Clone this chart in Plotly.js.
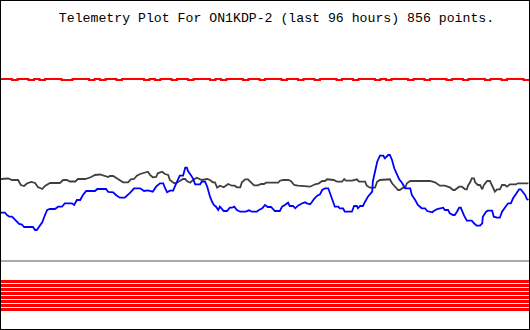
<!DOCTYPE html>
<html>
<head>
<meta charset="utf-8">
<script src="https://cdn.plot.ly/plotly-3.0.1.min.js"></script>
<style>
  html, body { margin: 0; padding: 0; background: #fff; }
  #chart { width: 528px; height: 328px; border: 1px solid #000; }
</style>
</head>
<body>
<div id="chart"></div>
<script>
// ---- Data (x in hours relative to now, y in raw telemetry units 0..255+) ----
const titleText = "Telemetry Plot For ON1KDP-2 (last 96 hours) 856 points.";

const blackHours = [-96.0,-95.3,-94.7,-94.0,-92.9,-92.4,-91.8,-91.3,-90.5,-89.8,-89.3,-88.5,-88.0,-87.1,-85.3,-84.7,-84.0,-83.5,-82.5,-82.0,-80.7,-79.8,-78.9,-78.0,-77.1,-76.5,-76.2,-75.6,-75.1,-74.4,-73.8,-72.9,-72.4,-71.8,-71.3,-70.7,-70.2,-69.6,-69.3,-68.9,-68.4,-67.8,-67.5,-66.7,-66.2,-65.6,-65.3,-64.5,-64.0,-63.5,-62.9,-62.5,-62.2,-61.6,-61.1,-60.4,-59.5,-58.5,-58.0,-57.5,-57.1,-56.7,-56.2,-55.5,-54.7,-54.0,-53.5,-53.1,-52.5,-52.2,-51.6,-51.1,-50.5,-50.0,-49.3,-48.7,-48.2,-47.8,-45.6,-45.3,-44.7,-43.8,-43.3,-42.7,-42.0,-40.7,-39.8,-38.9,-38.2,-37.6,-37.1,-36.7,-35.8,-35.5,-34.9,-34.0,-33.6,-33.3,-32.2,-31.6,-31.3,-30.9,-29.8,-29.5,-28.9,-28.0,-27.6,-27.1,-26.2,-25.3,-24.9,-24.4,-23.8,-23.5,-22.9,-22.5,-22.2,-21.6,-18.0,-17.1,-16.2,-15.3,-14.4,-13.8,-13.5,-12.7,-12.2,-11.6,-11.3,-11.1,-10.7,-10.4,-10.0,-9.8,-9.3,-8.9,-8.5,-8.2,-7.6,-7.1,-6.7,-6.2,-5.8,-5.3,-4.9,-4.4,-4.0,-3.5,-2.4,-2.0,-0.1];
const blackValues = [150,150,150.5,149,149,144,143,145.5,147,146,142,140,143,146,146,149,149,147.5,147.5,150,150,151.5,154,154.5,153,152,153,153,151.3,149,146.7,146.7,149.7,150,153.3,155,155.7,157.3,157.3,154,151.7,152,155.7,157.3,155,154,149,145.7,146.3,148,150,150,148,146.3,149,151.3,149,150,149,146.7,146.7,141.3,143.3,141.7,145,143.3,143.3,141.7,141.7,146.7,149.7,149.7,146.7,143.7,143.7,145,145,146.3,146.3,148.3,149,149,148,144,143.3,142.3,142.3,144.7,145.7,148,148,149.7,149.7,149,147.3,147.3,150,148.3,148.3,149.7,149.7,147.3,147.3,143.3,141.3,141.3,147.3,149,149.7,149.7,145.7,142.3,139,139,141.3,141.3,145.7,148,148,146.7,143.3,143.3,141.7,139,139,142.3,142.3,139.7,139.7,143.3,146.7,150.7,150.7,146.7,144,144,139.7,144,148,148,143,137.3,139.7,139.7,144,144,142.3,144.7,144.7,145.7,145.7];

const blueHours = [-96.0,-95.3,-94.9,-94.5,-94.0,-93.6,-93.3,-92.7,-92.2,-91.8,-90.2,-89.8,-89.5,-89.1,-88.5,-88.0,-87.6,-87.1,-86.2,-85.6,-84.9,-84.4,-83.1,-82.7,-82.2,-81.6,-81.1,-80.5,-78.9,-78.5,-76.9,-76.5,-76.2,-75.6,-75.1,-74.4,-73.5,-73.1,-72.5,-71.8,-70.7,-70.0,-69.3,-68.4,-67.8,-67.1,-66.5,-66.2,-65.8,-65.3,-64.7,-64.4,-64.0,-63.5,-62.9,-62.5,-62.2,-62.0,-61.5,-61.1,-60.7,-59.8,-59.5,-58.9,-58.5,-58.2,-58.0,-57.6,-57.3,-56.9,-56.5,-56.2,-55.5,-54.9,-54.4,-54.0,-53.6,-53.1,-52.5,-51.5,-50.9,-50.4,-49.5,-49.1,-48.5,-48.0,-47.5,-46.9,-46.5,-46.2,-45.3,-44.9,-44.4,-43.8,-43.5,-42.9,-42.5,-42.0,-41.3,-40.7,-40.4,-39.8,-39.5,-39.1,-38.5,-38.0,-37.6,-37.1,-36.5,-36.2,-35.8,-35.3,-34.7,-34.4,-33.8,-33.5,-32.2,-31.8,-31.3,-31.1,-30.7,-30.2,-29.8,-29.3,-28.5,-28.4,-28.0,-27.6,-27.1,-26.5,-26.2,-25.6,-25.3,-24.9,-24.5,-24.0,-23.6,-23.1,-22.5,-21.6,-21.3,-20.7,-20.2,-19.5,-18.9,-18.5,-17.6,-17.3,-16.7,-15.6,-15.3,-14.7,-14.4,-13.8,-13.5,-13.1,-12.7,-12.4,-12.2,-11.8,-11.3,-10.4,-10.0,-9.5,-8.9,-8.5,-8.4,-7.8,-7.5,-6.7,-6.4,-5.8,-5.3,-4.9,-4.4,-3.8,-3.3,-2.9,-2.4,-1.8,-1.5,-1.1,-0.7,-0.4,-0.1];
const blueValues = [116.3,116.3,114,112.3,112.3,110,108,105,104.5,102,102,99,99,102.3,106.7,114,119,120,120,122.3,122.3,125.7,125.7,124,129,129,134,138,138,140,140,137,136.7,136.7,134,131.3,131.3,133,136.3,140.7,140.7,138,138.7,137.3,142.3,145.7,145.7,141.3,136.7,138.3,138.3,142.3,147.3,153.3,153.3,161.3,161.3,158,154,150.7,144.7,144.7,147.3,147.3,142.3,136,132.3,127,124,122.3,119,122.3,118,118,121.3,121.3,122.3,119,117.3,117.3,118.7,117.3,117.3,119,120.7,124,122,122,119.7,118,118,122.3,124,126.3,123,123,120.7,123.3,125.5,126.7,125.7,124.7,126.7,130,133.3,134.7,139,140.7,140.7,135.7,129,122.3,122.3,120.7,120.7,117.3,117.3,123,123,120.7,123,123,127.3,132.3,137.3,147.3,157.3,167.3,173.3,173.3,170.7,174,174,169,160.7,154.7,149.7,146.3,140.7,140.7,134,129,124,120.7,120.7,118,116.7,118,120,121.3,119,119,115.7,114,114,117.3,121.3,121.3,118,113.3,108.3,108.3,105.7,103.3,103.3,105.7,112.3,117.3,118.3,118.3,112.3,111.3,111.3,117.3,121.3,125.7,125.7,130.7,134.7,139.7,139.7,136.7,134,130,129];

const redValues = [250,250,249,250,250,249,250,249,250,250,250,249,249,250,250,250,249,250,249,250,250,249,250,250,250,250,249,250,249,250,250,249,250,250,249,250,250,250,249,250,249,250,250,250,249,250,250,249,250,250,250,249,250,250,249,250,250,249,250,250,250,249,250,250,249,250,250,250,249,250,249,250,250,250,249,250,250,249,250,250,250,249,250,250,249,250,250,250,249,250,250,249,250,250,250,249,250];

const baselineValue = [68, 68];
const bitNames = ["B1","B2","B3","B4","B5","B6","B7","B8"];
const bitStates = [1,1,1,1,1,1,1,1];
const bitLevels = [47.5,43.5,39.5,35.5,31.5,27.5,23.5,19.5];

// ---- Build traces ----
const redHours = redValues.map((_, i) => -96 + i * 96 / (redValues.length - 1));
const traces = [];

traces.push({
  x: redHours, y: redValues, type: 'scatter', mode: 'lines',
  line: {color: '#ff0000', width: 2, shape: 'hv'}, hoverinfo: 'skip'
});
traces.push({
  x: blackHours, y: blackValues, type: 'scatter', mode: 'lines',
  line: {color: '#404040', width: 1.8}, hoverinfo: 'skip'
});
traces.push({
  x: blueHours, y: blueValues, type: 'scatter', mode: 'lines',
  line: {color: '#0000ff', width: 1.8}, hoverinfo: 'skip'
});
traces.push({
  x: [-96, 0], y: baselineValue, type: 'scatter', mode: 'lines',
  line: {color: '#aaaaaa', width: 2}, hoverinfo: 'skip'
});
bitNames.forEach((name, i) => {
  if (bitStates[i]) {
    traces.push({
      name: name, x: [-96, 0], y: [bitLevels[i], bitLevels[i]],
      type: 'scatter', mode: 'lines',
      line: {color: '#ff0000', width: 3}, hoverinfo: 'skip'
    });
  }
});

const layout = {
  width: 528, height: 328,
  margin: {l: 0, r: 0, t: 0, b: 0, pad: 0},
  paper_bgcolor: '#ffffff', plot_bgcolor: '#ffffff',
  showlegend: false,
  title: {
    text: titleText,
    font: {family: 'Liberation Mono, DejaVu Sans Mono, monospace', size: 13.2, color: '#000000'},
    x: 275.5 / 528, xanchor: 'center', xref: 'container',
    y: 1 - 16 / 328, yanchor: 'middle', yref: 'container'
  },
  xaxis: {range: [-96, 0], visible: false, fixedrange: true},
  yaxis: {range: [0, 328], visible: false, fixedrange: true}
};

Plotly.newPlot('chart', traces, layout, {staticPlot: true, displayModeBar: false});
</script>
</body>
</html>
